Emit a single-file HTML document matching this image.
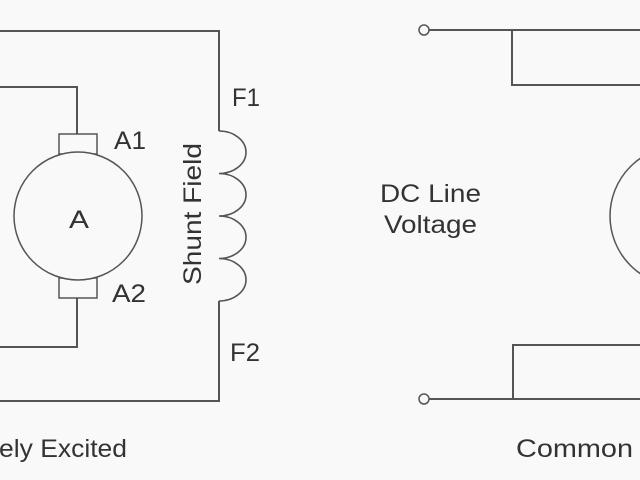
<!DOCTYPE html>
<html><head><style>
body{margin:0;background:#f9f9f9;}
svg{display:block;}
text{font-family:"Liberation Sans",sans-serif;fill:#333;}
</style></head><body>
<svg width="640" height="480" viewBox="0 0 640 480">
<g stroke="#555" stroke-width="2" fill="none">
<polyline points="0,31 219,31 219,131"/>
<polyline points="219,301 219,401 0,401"/>
<path d="M219,131 a27,21.25 0 0 1 0,42.5 a27,21.25 0 0 1 0,42.5 a27,21.25 0 0 1 0,42.5 a27,21.25 0 0 1 0,42.5" stroke-width="1.6"/>
<polyline points="0,87 77,87 77,134"/>
<polyline points="77,298 77,347 0,347"/>
<rect x="59" y="134" width="38" height="20" stroke-width="1.5" fill="#f9f9f9"/>
<rect x="59" y="278" width="38" height="20" stroke-width="1.5" fill="#f9f9f9"/>
<circle cx="78" cy="216" r="64" stroke-width="1.5" fill="#f9f9f9"/>
<circle cx="424" cy="30" r="5" stroke-width="1.5"/>
<circle cx="424" cy="399" r="5" stroke-width="1.5"/>
<line x1="429" y1="30" x2="640" y2="30"/>
<polyline points="512,30 512,85 640,85"/>
<line x1="429" y1="399" x2="640" y2="399"/>
<polyline points="513,399 513,345 640,345"/>
<circle cx="680" cy="216" r="70" stroke-width="1.5"/>
</g>
<g font-size="25">
<text x="69" y="228" textLength="20" lengthAdjust="spacingAndGlyphs">A</text>
<text x="114" y="149" textLength="32" lengthAdjust="spacingAndGlyphs">A1</text>
<text x="112" y="302" textLength="34" lengthAdjust="spacingAndGlyphs">A2</text>
<text x="232" y="106" textLength="28" lengthAdjust="spacingAndGlyphs">F1</text>
<text x="230" y="361" textLength="30" lengthAdjust="spacingAndGlyphs">F2</text>
<text transform="translate(201,214) rotate(-90)" text-anchor="middle" textLength="142" lengthAdjust="spacingAndGlyphs">Shunt Field</text>
<text x="-1" y="457" textLength="128" lengthAdjust="spacingAndGlyphs">ely Excited</text>
<text x="380" y="202" textLength="101" lengthAdjust="spacingAndGlyphs">DC Line</text>
<text x="384" y="233" textLength="93" lengthAdjust="spacingAndGlyphs">Voltage</text>
<text x="516" y="457" textLength="117" lengthAdjust="spacingAndGlyphs">Common</text>
</g>
</svg>
</body></html>
